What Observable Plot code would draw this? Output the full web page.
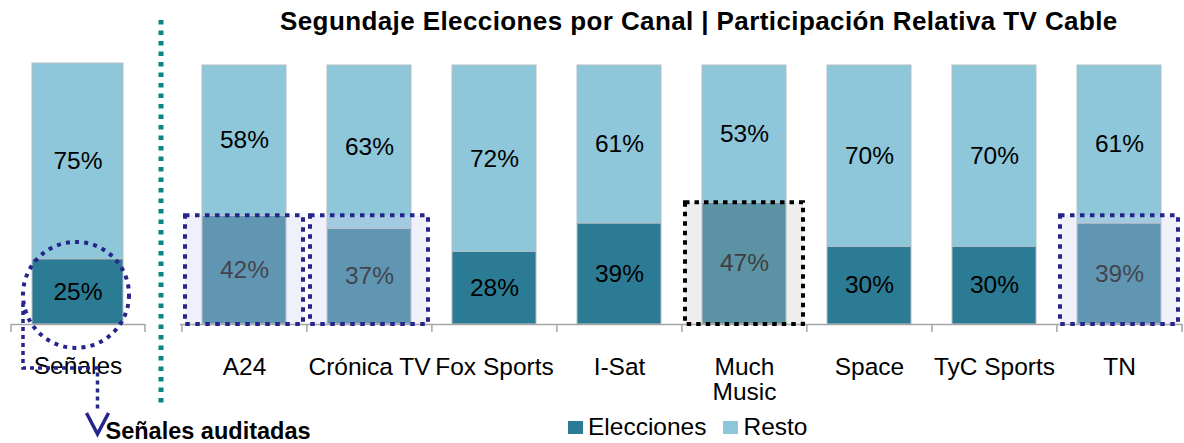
<!DOCTYPE html>
<html>
<head>
<meta charset="utf-8">
<script src="https://cdn.jsdelivr.net/npm/d3@7"></script>
<script src="https://cdn.jsdelivr.net/npm/@observablehq/plot@0.6"></script>
<style>
  body { margin: 0; background: #fff; font-family: "Liberation Sans", Arial, sans-serif; }
  #wrap { position: relative; width: 1184px; height: 443px; overflow: hidden; background: #fff; }
  #wrap svg { position: absolute; left: 0; top: 0; }
  #title { position: absolute; left: 280px; width: 837px; top: 8px; text-align: center; white-space: nowrap;
           font-weight: bold; font-size: 26px; letter-spacing: 0.4px; line-height: 1; color: #000; z-index: 5; }
  #legend { position: absolute; left: 568px; top: 415px; display: flex; align-items: center; white-space: nowrap;
            font-size: 24.5px; line-height: 1; color: #000; z-index: 5; }
  #legend .sw { display: inline-block; width: 15px; height: 13px; margin-right: 5px; }
  #legend .item { display: flex; align-items: center; margin-right: 17px; }
</style>
</head>
<body>
<div id="wrap">
  <div id="title"></div>
  <div id="legend"></div>
</div>
<script>
// ---------- data ----------
const titleText = "Segundaje Elecciones por Canal | Participación Relativa TV Cable";
const series = ["Elecciones", "Resto"];
const seriesColors = ["#2c7b94", "#8dc7d9"];

const totalLabel = "Señales";
const totalElecciones = 0.25;
const totalResto = 0.75;

const channels = ["A24", "Crónica TV", "Fox Sports", "I-Sat", "Much Music", "Space", "TyC Sports", "TN"];
const channelLabels = ["A24", "Crónica TV", "Fox Sports", "I-Sat", "Much\nMusic", "Space", "TyC Sports", "TN"];
const elecciones = [0.42, 0.37, 0.28, 0.39, 0.47, 0.30, 0.30, 0.39];
const resto = [0.58, 0.63, 0.72, 0.61, 0.53, 0.70, 0.70, 0.61];

const highlighted = ["A24", "Crónica TV", "TN"];
const featured = ["Much Music"];
const annotationText = "Señales auditadas";

// ---------- derived tables ----------
const rows = channels.flatMap((c, i) => [
  {canal: c, serie: "Elecciones", v: elecciones[i]},
  {canal: c, serie: "Resto", v: resto[i]}
]);
const totalRows = [
  {canal: totalLabel, serie: "Elecciones", v: totalElecciones},
  {canal: totalLabel, serie: "Resto", v: totalResto}
];
const blueTop = d3.max(highlighted, c => elecciones[channels.indexOf(c)]);
const blueBoxes = highlighted.map(c => ({canal: c, top: blueTop}));
const featBoxes = featured.map(c => ({canal: c, top: elecciones[channels.indexOf(c)]}));
const labelOf = new Map(channels.map((c, i) => [c, channelLabels[i]]));
const fmt = v => Math.round(v * 100) + "%";

// ---------- layout ----------
const W = 1184, H = 443;
const FONT = "Liberation Sans, Arial, sans-serif";
const FS = 24.5;
const axisColor = "#a6a6a6";
const navy = "#25258c";

const mainML = 180, mainMR = 2;
const mainStep = (W - mainML - mainMR) / channels.length;
const leftML = 11, leftMR = W - 145;
const leftStep = W - leftML - leftMR;

const common = {
  width: W, height: H, marginBottom: 119,
  style: {background: "transparent", fontFamily: FONT, overflow: "visible"},
  y: {domain: [0, 1], axis: null},
  color: {domain: series, range: seriesColors}
};

function stackMarks(data) {
  return [
    Plot.barY(data, {x: "canal", y: "v", fill: "serie", stroke: "#b3bfc4", strokeWidth: 1}),
    Plot.text(data, Plot.stackY({x: "canal", y: "v", z: "serie", text: d => fmt(d.v), fontSize: FS, fill: "#000"})),
    Plot.ruleY([0], {stroke: axisColor, strokeWidth: 1.5})
  ];
}

// ---------- main chart ----------
const mainPlot = Plot.plot({
  ...common,
  marginLeft: mainML, marginRight: mainMR, marginTop: 65,
  x: {domain: channels, paddingInner: 0.33, paddingOuter: 0.165, label: null},
  marks: [
    ...stackMarks(rows),
    Plot.ruleX(channels, {x: d => d, y1: 0, y2: -0.031, dx: -mainStep / 2, stroke: axisColor, strokeWidth: 1.5}),
    Plot.ruleX(channels.slice(-1), {x: d => d, y1: 0, y2: -0.031, dx: mainStep / 2, stroke: axisColor, strokeWidth: 1.5}),
    Plot.barY(blueBoxes, {x: "canal", y1: 0, y2: "top", insetLeft: -17, insetRight: -17,
      fill: "#d0d0f0", fillOpacity: 0.32, stroke: navy, strokeWidth: 4, strokeDasharray: "4.5 5.5"}),
    Plot.barY(featBoxes, {x: "canal", y1: 0, y2: "top", insetLeft: -17, insetRight: -17,
      fill: "#c9c9c9", fillOpacity: 0.31, stroke: "#000", strokeWidth: 4, strokeDasharray: "4.5 5"}),
    Plot.axisX({tickSize: 0, tickPadding: 32, fontSize: FS, lineHeight: 1.05, label: null,
      tickFormat: d => labelOf.get(d), fill: "#000"})
  ]
});

// ---------- left (total) chart ----------
const leftPlot = Plot.plot({
  ...common,
  marginLeft: leftML, marginRight: leftMR, marginTop: 63,
  x: {domain: [totalLabel], paddingInner: 0.32, paddingOuter: 0.16, label: null},
  marks: [
    ...stackMarks(totalRows),
    Plot.ruleX([totalLabel], {x: d => d, y1: 0, y2: -0.031, dx: -leftStep / 2, stroke: axisColor, strokeWidth: 1.5}),
    Plot.ruleX([totalLabel], {x: d => d, y1: 0, y2: -0.031, dx: leftStep / 2, stroke: axisColor, strokeWidth: 1.5}),
    Plot.dot([totalElecciones], {x: () => totalLabel, y: d => d / 2, r: 53, dx: -2, dy: 3,
      fill: "none", stroke: navy, strokeWidth: 4, strokeDasharray: "4 5.2"}),
    Plot.axisX({tickSize: 0, tickPadding: 32, fontSize: FS, label: null, fill: "#000"})
  ]
});

const wrap = document.getElementById("wrap");
wrap.appendChild(leftPlot);
wrap.appendChild(mainPlot);

// ---------- annotations on the left chart ----------
const sx = leftPlot.scale("x"), sy = leftPlot.scale("y");
const [r0, r1] = sx.range;
const cx = (r0 + r1) / 2 - 2;
const y0 = sy.apply(0), y1 = sy.apply(1);
const g = d3.select(leftPlot).append("g");

// separator
g.append("line")
  .attr("x1", r1 + 16).attr("x2", r1 + 16)
  .attr("y1", y1 - 43).attr("y2", y0 + 84)
  .attr("stroke", "#0b8585").attr("stroke-width", 5).attr("stroke-dasharray", "4.5 6");

// dotted leader
const lx = cx - 53, ax = cx + 21.5;
g.append("path")
  .attr("d", `M${lx},${y0 - 21}V${y0 + 44}H${ax}V${y0 + 87}`)
  .attr("fill", "none").attr("stroke", navy).attr("stroke-width", 3.5).attr("stroke-dasharray", "4 4");

// arrow head
g.append("path")
  .attr("d", `M${ax - 11},${y0 + 89}L${ax},${y0 + 110}L${ax + 11},${y0 + 89}`)
  .attr("fill", "none").attr("stroke", navy).attr("stroke-width", 3.5);

g.append("text")
  .attr("x", ax + 8).attr("y", y0 + 115)
  .attr("text-anchor", "start")
  .attr("font-size", 23.5).attr("font-weight", "bold").attr("font-family", FONT).attr("fill", "#000")
  .text(annotationText);

// ---------- title & legend ----------
document.getElementById("title").textContent = titleText;
const legend = d3.select("#legend");
series.forEach((s, i) => {
  const it = legend.append("div").attr("class", "item");
  it.append("span").attr("class", "sw").style("background", seriesColors[i]);
  it.append("span").text(s);
});
</script>
</body>
</html>
